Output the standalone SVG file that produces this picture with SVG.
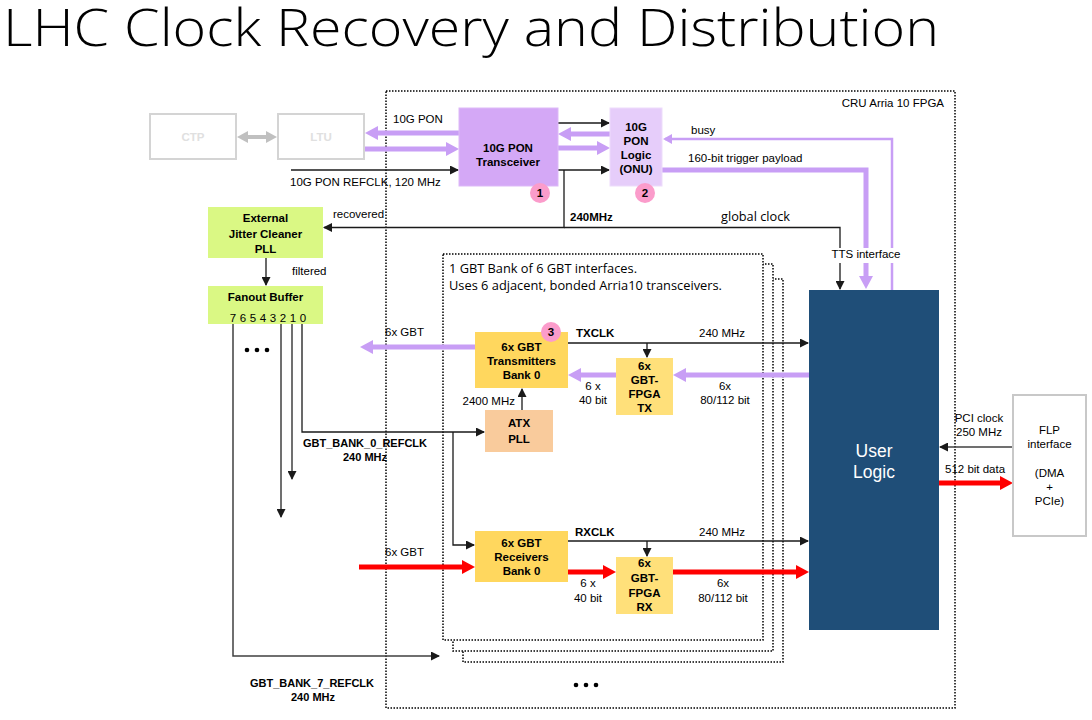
<svg xmlns="http://www.w3.org/2000/svg" width="1092" height="720" viewBox="0 0 1092 720">
  <style>
    .t { font-family: "Liberation Sans", Arial, sans-serif; font-size: 11.5px; fill: #000; }
    .b { font-weight: bold; }
    .c { text-anchor: middle; }
    .e { text-anchor: end; }
    .s11 { font-size: 11px; }
    .big { font-size: 17.5px; fill: #fff; }
    .ghost { fill: #e0e0e0; }
    .cal { font-family: "Open Sans", "Noto Sans", sans-serif; font-size: 12px; }
    .k { stroke: #1a1a1a; stroke-width: 1.3; fill: none; }
    .kg { stroke: #404040; stroke-width: 1.5; fill: none; }
    .p { stroke: #c89ef5; stroke-width: 5; fill: none; }
    .ps { stroke: #c89ef5; stroke-width: 2.5; fill: none; }
    .r { stroke: #ff0000; stroke-width: 5; fill: none; }
    .dot { fill: none; stroke: #000; stroke-width: 1.5; stroke-dasharray: 1.5 1.5; }
    .bank { fill: #fff; stroke: #000; stroke-width: 1.5; stroke-dasharray: 1.5 1.5; }
    .badge { fill: #fb9ccb; }
  </style>
  <defs>
    <marker id="ak" viewBox="0 0 9 9" markerUnits="userSpaceOnUse" markerWidth="9" markerHeight="9" refX="8" refY="4.5" orient="auto">
      <path d="M0,0 L9,4.5 L0,9 z" fill="#1a1a1a"/>
    </marker>
    <marker id="ap" viewBox="0 0 13 14" markerUnits="userSpaceOnUse" markerWidth="13" markerHeight="14" refX="4" refY="7" orient="auto">
      <path d="M0,0 L13,7 L0,14 z" fill="#c89ef5"/>
    </marker>
    <marker id="aps" viewBox="0 0 9 10" markerUnits="userSpaceOnUse" markerWidth="9" markerHeight="10" refX="7" refY="5" orient="auto">
      <path d="M0,0 L9,5 L0,10 z" fill="#c89ef5"/>
    </marker>
    <marker id="ar" viewBox="0 0 13 14" markerUnits="userSpaceOnUse" markerWidth="13" markerHeight="14" refX="4" refY="7" orient="auto">
      <path d="M0,0 L13,7 L0,14 z" fill="#ff0000"/>
    </marker>
    <marker id="ag" viewBox="0 0 11 12" markerUnits="userSpaceOnUse" markerWidth="11" markerHeight="12" refX="3" refY="6" orient="auto-start-reverse">
      <path d="M0,0 L11,6 L0,12 z" fill="#c0c0c0"/>
    </marker>
  </defs>

  <rect width="1092" height="720" fill="#fff"/>

  <!-- title -->
  <text x="3" y="46" font-family="'Open Sans', 'Noto Sans', sans-serif" font-weight="300" font-size="51" textLength="936" lengthAdjust="spacingAndGlyphs" fill="#000">LHC Clock Recovery and Distribution</text>

  <!-- containers: FPGA and stacked GBT banks -->
  <g id="containers">
    <rect id="fpga" class="dot" x="386" y="91" width="569" height="617"/>
    <text class="t e" x="944" y="107">CRU Arria 10 FPGA</text>
    <rect class="bank" x="463" y="279" width="320" height="383"/>
    <rect class="bank" x="453" y="264" width="320" height="387"/>
    <rect id="gbt-bank" class="bank" x="443" y="254" width="320" height="386"/>
    <text class="cal" x="449" y="273" textLength="188" lengthAdjust="spacingAndGlyphs">1 GBT Bank of 6 GBT interfaces.</text>
    <text class="cal" x="449" y="290" textLength="273" lengthAdjust="spacingAndGlyphs">Uses 6 adjacent, bonded Arria10 transceivers.</text>
  </g>

  <!-- connectors -->
  <g id="connectors">
    <!-- CTP <-> LTU -->
    <path d="M245 137 H269" stroke="#c0c0c0" stroke-width="4" fill="none" marker-start="url(#ag)" marker-end="url(#ag)"/>
    <!-- 10G PON links -->
    <path class="p" d="M459 133 H374" marker-end="url(#ap)"/>
    <path class="p" d="M365 149 H450" marker-end="url(#ap)"/>
    <path class="p" d="M610 134 H567" marker-end="url(#ap)"/>
    <path class="p" d="M558 148 H601" marker-end="url(#ap)"/>
    <path class="k" d="M291 170 H458" marker-end="url(#ak)"/>
    <path class="k" d="M558 123 H609" marker-end="url(#ak)"/>
    <path class="k" d="M558 170 H609" marker-end="url(#ak)"/>
    <!-- recovered / global clock -->
    <path class="k" d="M564 170 V227.5 H324" marker-end="url(#ak)"/>
    <path class="k" d="M564 227.5 H840 V289" marker-end="url(#ak)"/>
    <!-- busy and trigger payload -->
    <path class="ps" d="M892 290 V139 H665" marker-end="url(#aps)"/>
    <path class="p" d="M662 170 H866 V280" marker-end="url(#ap)"/>
    <!-- jitter cleaner to fanout -->
    <path class="k" d="M266 258 V285" marker-end="url(#ak)"/>
    <!-- fanout outputs -->
    <path class="kg" d="M233 324 V656 H439" marker-end="url(#ak)"/>
    <path class="kg" d="M281 324 V517" marker-end="url(#ak)"/>
    <path class="kg" d="M292 324 V479" marker-end="url(#ak)"/>
    <path class="k" d="M302 324 V432 H484" marker-end="url(#ak)"/>
    <path class="k" d="M453 432 V545 H474" marker-end="url(#ak)"/>
    <!-- ATX PLL to transmitters -->
    <path class="k" d="M522 410 V389" marker-end="url(#ak)"/>
    <!-- TX clock / data -->
    <path class="k" d="M568 343 H808" marker-end="url(#ak)"/>
    <path class="k" d="M647 343 V357" marker-end="url(#ak)"/>
    <path class="p" d="M809 375 H682" marker-end="url(#ap)"/>
    <path class="p" d="M616 375 H577" marker-end="url(#ap)"/>
    <path class="p" d="M475 347 H369" marker-end="url(#ap)"/>
    <!-- RX clock / data -->
    <path class="k" d="M568 541 H808" marker-end="url(#ak)"/>
    <path class="k" d="M647 541 V556" marker-end="url(#ak)"/>
    <path class="r" d="M359 567 H466" marker-end="url(#ar)"/>
    <path class="r" d="M568 572 H607" marker-end="url(#ar)"/>
    <path class="r" d="M673 572 H800" marker-end="url(#ar)"/>
    <!-- FLP interface -->
    <path class="kg" d="M1013 447 H940" marker-end="url(#ak)"/>
    <path class="r" d="M939 483 H1004" marker-end="url(#ar)"/>

    <!-- connector labels -->
    <text class="t" x="393" y="123">10G PON</text>
    <text class="t" x="290" y="186">10G PON REFCLK, 120 MHz</text>
    <text class="t" x="691" y="134">busy</text>
    <text class="t" x="688" y="162">160-bit trigger payload</text>
    <text class="t b" x="570" y="221">240MHz</text>
    <text class="cal" x="721" y="221" textLength="69" lengthAdjust="spacingAndGlyphs">global clock</text>
    <text class="t" x="333" y="218">recovered</text>
    <rect x="829" y="248" width="74" height="15" fill="#fff"/>
    <text class="t c" x="866" y="258">TTS interface</text>
    <text class="t" x="292" y="275">filtered</text>
    <text class="t" x="385" y="336">6x GBT</text>
    <text class="t b" x="576" y="337">TXCLK</text>
    <text class="t" x="699" y="337">240 MHz</text>
    <text class="t c" x="593" y="390">6 x</text>
    <text class="t c" x="593" y="404">40 bit</text>
    <text class="t c" x="725" y="390">6x</text>
    <text class="t c" x="725" y="404">80/112 bit</text>
    <text class="t e" x="515" y="405">2400 MHz</text>
    <text class="t b c s11" x="365" y="447">GBT_BANK_0_REFCLK</text>
    <text class="t b c s11" x="365" y="461">240 MHz</text>
    <text class="t b" x="575" y="536">RXCLK</text>
    <text class="t" x="699" y="536">240 MHz</text>
    <text class="t" x="385" y="556">6x GBT</text>
    <text class="t c" x="588" y="587">6 x</text>
    <text class="t c" x="588" y="602">40 bit</text>
    <text class="t c" x="723" y="587">6x</text>
    <text class="t c" x="723" y="602">80/112 bit</text>
    <text class="t b c s11" x="312" y="687">GBT_BANK_7_REFCLK</text>
    <text class="t b c s11" x="313" y="701">240 MHz</text>
    <text class="t c" x="979" y="422">PCI clock</text>
    <text class="t c" x="979" y="436">250 MHz</text>
    <text class="t" x="945" y="473">512 bit data</text>
    <!-- continuation marks -->
    <circle cx="247" cy="350" r="2.3"/>
    <circle cx="257" cy="350" r="2.3"/>
    <circle cx="267" cy="350" r="2.3"/>
    <circle cx="576" cy="685" r="2.3"/>
    <circle cx="586" cy="685" r="2.3"/>
    <circle cx="596" cy="685" r="2.3"/>
  </g>

  <!-- nodes -->
  <g id="ctp">
    <rect x="150" y="114" width="86" height="45" fill="#fff" stroke="#d4d4d4" stroke-width="2"/>
    <text class="t b c ghost" x="193" y="141">CTP</text>
  </g>
  <g id="ltu">
    <rect x="278" y="114" width="86" height="45" fill="#fff" stroke="#d4d4d4" stroke-width="2"/>
    <text class="t b c ghost" x="321" y="141">LTU</text>
  </g>
  <g id="pon-transceiver">
    <rect x="459" y="108" width="99" height="78" fill="#d4a8f6" stroke="#ddb9f8" stroke-width="1"/>
    <text class="t b c" x="508" y="152">10G PON</text>
    <text class="t b c" x="508" y="166">Transceiver</text>
    <circle class="badge" cx="540" cy="193" r="10"/>
    <text class="t b c" x="540" y="197">1</text>
  </g>
  <g id="pon-logic">
    <rect x="610" y="108" width="52" height="78" fill="#e6cdfa" stroke="#eddcfb" stroke-width="1"/>
    <text class="t b c" x="636" y="131">10G</text>
    <text class="t b c" x="636" y="145">PON</text>
    <text class="t b c" x="636" y="159">Logic</text>
    <text class="t b c" x="636" y="173">(ONU)</text>
    <circle class="badge" cx="645" cy="193" r="10"/>
    <text class="t b c" x="645" y="197">2</text>
  </g>
  <g id="jitter-cleaner">
    <rect x="208" y="207" width="115" height="51" fill="#daf884"/>
    <text class="t b c" x="265.5" y="222">External</text>
    <text class="t b c" x="265.5" y="238">Jitter Cleaner</text>
    <text class="t b c" x="265.5" y="253">PLL</text>
  </g>
  <g id="fanout-buffer">
    <rect x="208" y="286" width="115" height="38" fill="#daf884"/>
    <text class="t b c" x="265.5" y="301">Fanout Buffer</text>
    <text class="t c" x="233" y="322">7</text>
    <text class="t c" x="243" y="322">6</text>
    <text class="t c" x="253" y="322">5</text>
    <text class="t c" x="263" y="322">4</text>
    <text class="t c" x="273" y="322">3</text>
    <text class="t c" x="283" y="322">2</text>
    <text class="t c" x="293" y="322">1</text>
    <text class="t c" x="303" y="322">0</text>
  </g>
  <g id="gbt-tx">
    <rect x="475" y="332" width="93" height="56" fill="#ffd75e"/>
    <text class="t b c" x="521.5" y="351">6x GBT</text>
    <text class="t b c" x="521.5" y="365">Transmitters</text>
    <text class="t b c" x="521.5" y="379">Bank 0</text>
    <circle class="badge" cx="551" cy="332" r="10"/>
    <text class="t b c" x="551" y="336">3</text>
  </g>
  <g id="gbt-fpga-tx">
    <rect x="616" y="358" width="57" height="57" fill="#ffe07a"/>
    <text class="t b c" x="644.5" y="370">6x</text>
    <text class="t b c" x="644.5" y="384">GBT-</text>
    <text class="t b c" x="644.5" y="398">FPGA</text>
    <text class="t b c" x="644.5" y="412">TX</text>
  </g>
  <g id="atx-pll">
    <rect x="485" y="410" width="68" height="42" fill="#f9cb9c"/>
    <text class="t b c" x="519" y="427">ATX</text>
    <text class="t b c" x="519" y="443">PLL</text>
  </g>
  <g id="gbt-rx">
    <rect x="475" y="531" width="93" height="51" fill="#ffd75e"/>
    <text class="t b c" x="521.5" y="547">6x GBT</text>
    <text class="t b c" x="521.5" y="561">Receivers</text>
    <text class="t b c" x="521.5" y="575">Bank 0</text>
  </g>
  <g id="gbt-fpga-rx">
    <rect x="616" y="557" width="57" height="57" fill="#ffe07a"/>
    <text class="t b c" x="644.5" y="567">6x</text>
    <text class="t b c" x="644.5" y="582">GBT-</text>
    <text class="t b c" x="644.5" y="597">FPGA</text>
    <text class="t b c" x="644.5" y="611">RX</text>
  </g>
  <g id="user-logic">
    <rect x="809" y="290" width="130" height="340" fill="#1f4e78"/>
    <text class="t c big" x="874" y="457">User</text>
    <text class="t c big" x="874" y="478">Logic</text>
  </g>
  <g id="flp-interface">
    <rect x="1013" y="395" width="73" height="141" fill="#fff" stroke="#c8c8c8" stroke-width="2"/>
    <text class="t c" x="1049.5" y="434">FLP</text>
    <text class="t c" x="1049.5" y="448">interface</text>
    <text class="t c" x="1049.5" y="477">(DMA</text>
    <text class="t c" x="1049.5" y="491">+</text>
    <text class="t c" x="1049.5" y="505">PCIe)</text>
  </g>
</svg>
